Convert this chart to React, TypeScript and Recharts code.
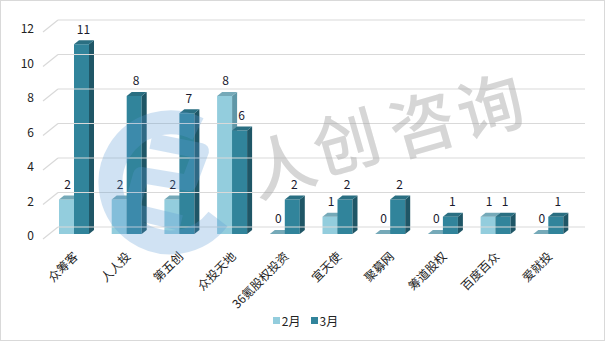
import React from "react";
import { Bar, BarChart, LabelList, Legend, XAxis, YAxis } from "recharts";

const categories = ["众筹客", "人人投", "第五创", "众投天地", "36氪股权投资", "宜天使", "聚募网", "筹道股权", "百度百众", "爱就投"];
const feb = [2, 2, 2, 8, 0, 1, 0, 0, 1, 0];
const mar = [11, 8, 7, 6, 2, 2, 2, 1, 1, 1];
const yTicks = [0, 2, 4, 6, 8, 10, 12];
const watermarkChars = ["人", "创", "咨", "询"];

const data = categories.map((name, i) => ({ name, feb: feb[i], mar: mar[i] }));

const FONT = "'Noto Sans CJK SC', 'Noto Sans', sans-serif";
const GRID = "#d9d9d9";

const colors = {
  feb: { front: "#93cddd", top: "#75a9b8", side: "#5f97a7" },
  mar: { front: "#31849b", top: "#2a6f82", side: "#1f5666" },
};

function make3dBar(c: { front: string; top: string; side: string }) {
  return (props: any) => {
    const { x, y, width, height } = props;
    const d = 5;
    const dy = 4;
    const h = Math.max(0, height || 0);
    return (
      <g>
        {h > 0 && <rect x={x} y={y} width={width} height={h} fill={c.front} />}
        {h > 0 && (
          <polygon
            points={`${x + width},${y} ${x + width + d},${y - dy} ${x + width + d},${y + h - dy} ${x + width},${y + h}`}
            fill={c.side}
          />
        )}
        <polygon
          points={`${x},${y} ${x + d},${y - dy} ${x + width + d},${y - dy} ${x + width},${y}`}
          fill={c.top}
        />
      </g>
    );
  };
}

const YTick = (props: any) => {
  const { y, payload } = props;
  const yb = y - 7;
  return (
    <g>
      <line x1={43} y1={yb + 12} x2={58} y2={yb} stroke={GRID} strokeWidth={1.2} />
      <line x1={58} y1={yb} x2={585} y2={yb} stroke={GRID} strokeWidth={1.2} />
      <text x={34} y={y + 3} textAnchor="end" dominantBaseline="middle" fontSize={12} fill="#222" fontFamily={FONT}>
        {payload.value}
      </text>
    </g>
  );
};

const XTick = (props: any) => {
  const { x, y, payload } = props;
  const tx = x + 2;
  const ty = y + 13;
  return (
    <text
      x={tx}
      y={ty}
      textAnchor="end"
      dominantBaseline="middle"
      fontSize={12}
      fill="#222"
      fontFamily={FONT}
      transform={`rotate(-45, ${tx}, ${ty})`}
    >
      {payload.value}
    </text>
  );
};

const valueLabel = (dx: number) => (props: any) => {
  const { x, y, width, value } = props;
  return (
    <text x={x + width / 2 + dx} y={y - 14} textAnchor="middle" dominantBaseline="middle" fontSize={12} fill="#1a1a2e" fontFamily={FONT}>
      {value}
    </text>
  );
};

const LegendContent = () => (
  <div style={{ height: 20, display: "flex", justifyContent: "center", alignItems: "center", fontFamily: FONT, fontSize: 12, color: "#222", paddingLeft: 36 }}>
    <span style={{ display: "inline-block", width: 7, height: 7, background: colors.feb.front, marginRight: 2 }} />
    <span style={{ marginRight: 10 }}>2月</span>
    <span style={{ display: "inline-block", width: 7, height: 7, background: colors.mar.front, marginRight: 2 }} />
    <span>3月</span>
  </div>
);

const charCenters = [
  [280, 160],
  [344, 137],
  [420, 119],
  [488, 101],
];

const Watermark = () => (
  <svg width={605} height={341} style={{ position: "absolute", left: 0, top: 0, pointerEvents: "none" }}>
    <g opacity={0.28}>
      <path d="M 197 128 A 60 60 0 1 0 217 218" fill="none" stroke="#5b9bd5" strokeWidth={24} />
      <path d="M 150 140 L 200 150 L 188 182 L 140 174 L 130 210 L 180 222" fill="none" stroke="#5b9bd5" strokeWidth={16} strokeLinejoin="round" />
    </g>
    {watermarkChars.map((ch, i) => (
      <text
        key={ch}
        x={charCenters[i][0]}
        y={charCenters[i][1]}
        fontSize={66}
        fill="#a6a6a6"
        opacity={0.45}
        textAnchor="middle"
        dominantBaseline="central"
        fontFamily={FONT}
        fontWeight={500}
        transform={`rotate(-16, ${charCenters[i][0]}, ${charCenters[i][1]})`}
      >
        {ch}
      </text>
    ))}
  </svg>
);

export default function App() {
  return (
    <div style={{ position: "absolute", left: 0, top: 0, width: 605, height: 341, boxSizing: "border-box", border: "1px solid #d9d9d9", background: "#fff" }}>
      <div style={{ position: "absolute", left: -1, top: -1 }}>
        <BarChart width={605} height={341} data={data} margin={{ top: 27, right: 30, left: 0, bottom: 11 }} barGap={0} barSize={15}>
          <YAxis domain={[0, 12]} ticks={yTicks} width={48} axisLine={false} tickLine={false} tick={<YTick />} interval={0} />
          <XAxis dataKey="name" axisLine={false} tickLine={false} height={76} interval={0} tick={<XTick />} />
          <Legend verticalAlign="bottom" content={<LegendContent />} />
          <Bar dataKey="feb" name="2月" fill={colors.feb.front} shape={make3dBar(colors.feb)} isAnimationActive={false}>
            <LabelList dataKey="feb" content={valueLabel(1)} />
          </Bar>
          <Bar dataKey="mar" name="3月" fill={colors.mar.front} shape={make3dBar(colors.mar)} isAnimationActive={false}>
            <LabelList dataKey="mar" content={valueLabel(2)} />
          </Bar>
        </BarChart>
      </div>
      <Watermark />
    </div>
  );
}
